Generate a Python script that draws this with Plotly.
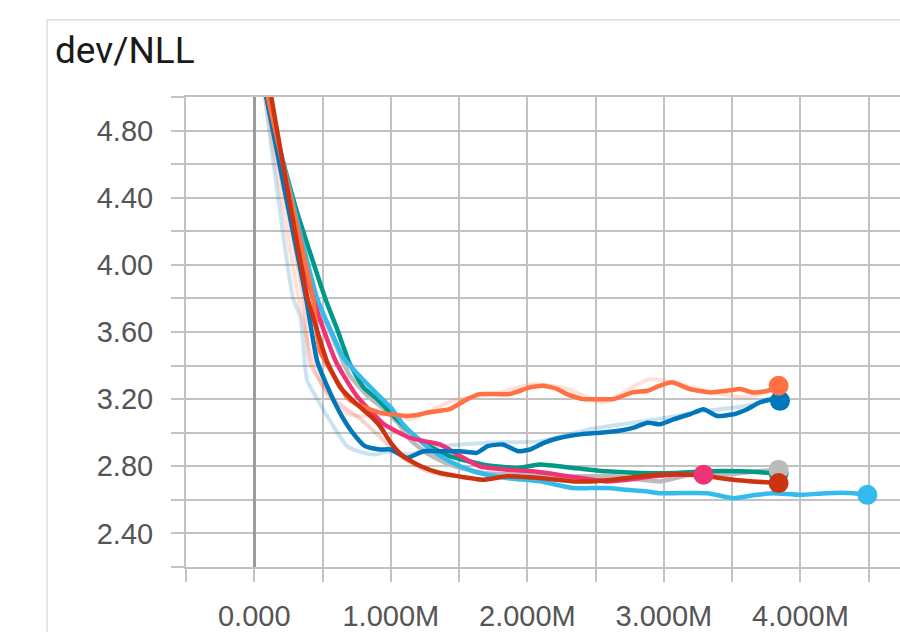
import plotly.graph_objects as go

# ---- smoothed dev/NLL curves (x in millions of steps) ----
blue_x = [0.06, 0.09, 0.38, 0.46, 0.56, 0.64, 0.72, 0.81, 0.92, 1.00, 1.12, 1.24, 1.36, 1.43, 1.51,
          1.63, 1.71, 1.82, 1.93, 2.02, 2.12, 2.24, 2.39, 2.53, 2.66, 2.78, 2.88, 2.97, 3.07, 3.19,
          3.29, 3.39, 3.51, 3.61, 3.70, 3.80, 3.85]
blue_y = [5.20, 5.00, 3.80, 3.43, 3.23, 3.10, 3.00, 2.92, 2.90, 2.90, 2.85, 2.89, 2.89, 2.89, 2.89,
          2.88, 2.92, 2.93, 2.89, 2.90, 2.94, 2.97, 2.99, 3.00, 3.01, 3.03, 3.06, 3.05, 3.08, 3.11,
          3.14, 3.10, 3.11, 3.14, 3.18, 3.20, 3.19]

orange_x = [0.06, 0.10, 0.43, 0.48, 0.62, 0.68, 0.75, 0.92, 1.12, 1.22, 1.27, 1.43, 1.56, 1.65,
            1.87, 2.02, 2.12, 2.22, 2.29, 2.41, 2.53, 2.63, 2.77, 2.88, 2.97, 3.06, 3.19, 3.34,
            3.46, 3.56, 3.65, 3.76, 3.84]
orange_y = [5.20, 5.00, 3.80, 3.49, 3.29, 3.21, 3.17, 3.12, 3.10, 3.11, 3.12, 3.14, 3.20, 3.23,
            3.23, 3.27, 3.28, 3.26, 3.23, 3.20, 3.20, 3.20, 3.24, 3.25, 3.28, 3.30, 3.26, 3.24,
            3.25, 3.26, 3.24, 3.25, 3.28]

teal_x = [0.06, 0.09, 0.30, 0.52, 0.61, 0.70, 0.80, 0.90, 1.02, 1.12, 1.24, 1.43, 1.68, 1.93,
          2.09, 2.34, 2.58, 2.83, 3.07, 3.32, 3.56, 3.80, 3.84]
teal_y = [5.20, 5.00, 4.35, 3.80, 3.61, 3.41, 3.27, 3.20, 3.10, 3.02, 2.94, 2.86, 2.81, 2.79,
          2.81, 2.79, 2.77, 2.76, 2.76, 2.77, 2.77, 2.76, 2.76]

gray_x = [0.06, 0.09, 0.46, 0.61, 0.70, 0.83, 0.95, 1.05, 1.14, 1.26, 1.43, 1.68, 1.93, 2.17,
          2.39, 2.63, 2.83, 2.97, 3.19, 3.43, 3.68, 3.84]
gray_y = [5.20, 5.00, 3.80, 3.50, 3.34, 3.22, 3.14, 3.06, 2.96, 2.88, 2.81, 2.76, 2.75, 2.74,
          2.74, 2.74, 2.72, 2.71, 2.75, 2.75, 2.77, 2.78]

pink_x = [0.06, 0.09, 0.43, 0.60, 0.75, 0.95, 1.14, 1.24, 1.36, 1.51, 1.65, 1.85, 2.04, 2.22,
          2.39, 2.58, 2.73, 2.92, 3.07, 3.29]
pink_y = [5.20, 5.00, 3.80, 3.42, 3.22, 3.05, 2.97, 2.95, 2.93, 2.86, 2.80, 2.78, 2.77, 2.75,
          2.73, 2.71, 2.72, 2.74, 2.75, 2.75]

red_x = [0.07, 0.125, 0.39, 0.43, 0.53, 0.63, 0.75, 0.85, 0.92, 1.00, 1.09, 1.22, 1.36, 1.50,
         1.68, 1.85, 2.09, 2.34, 2.46, 2.63, 2.83, 2.97, 3.19, 3.32, 3.51, 3.65, 3.84]
red_y = [5.30, 5.00, 3.80, 3.69, 3.43, 3.27, 3.17, 3.10, 3.04, 2.94, 2.86, 2.80, 2.76, 2.74,
         2.72, 2.74, 2.73, 2.71, 2.71, 2.72, 2.74, 2.75, 2.75, 2.74, 2.72, 2.71, 2.70]

cyan_x = [0.06, 0.10, 0.46, 0.56, 0.65, 0.78, 0.90, 1.00, 1.09, 1.19, 1.31, 1.43, 1.51, 1.65,
          1.85, 2.09, 2.34, 2.46, 2.58, 2.73, 2.88, 2.97, 3.07, 3.32, 3.51, 3.68, 3.80, 4.00,
          4.19, 4.39, 4.49]
cyan_y = [5.20, 5.00, 3.80, 3.61, 3.45, 3.33, 3.23, 3.15, 3.05, 2.97, 2.89, 2.83, 2.80, 2.76,
          2.73, 2.71, 2.67, 2.67, 2.67, 2.66, 2.65, 2.64, 2.64, 2.64, 2.61, 2.63, 2.64, 2.63,
          2.64, 2.64, 2.63]

# ---- unsmoothed (raw) values, drawn faintly behind the smoothed curves ----
blue_raw_x = [0.06, 0.08, 0.285, 0.337, 0.373, 0.388, 0.483, 0.556, 0.68, 0.80, 0.87, 1.00, 1.14,
              1.29, 1.70, 2.10, 2.45, 2.95, 3.30, 3.60, 3.80]
blue_raw_y = [5.20, 5.00, 3.80, 3.69, 3.39, 3.31, 3.17, 3.07, 2.92, 2.88, 2.87, 2.89, 2.87,
              2.91, 2.94, 2.95, 3.02, 3.08, 3.13, 3.16, 3.21]

orange_raw_x = [0.06, 0.08, 0.35, 0.43, 0.53, 0.68, 0.83, 1.00, 1.14, 1.29, 1.45, 1.80, 2.05,
                2.30, 2.55, 2.90, 3.30, 3.62, 3.84]
orange_raw_y = [5.20, 5.00, 3.69, 3.43, 3.23, 3.11, 3.10, 3.11, 3.08, 3.13, 3.19, 3.24, 3.29,
                3.26, 3.18, 3.32, 3.25, 3.21, 3.28]

red_raw_x = [0.06, 0.09, 0.36, 0.41, 0.58, 0.78, 0.94, 1.07, 1.24, 1.43]
red_raw_y = [5.20, 5.00, 3.80, 3.41, 3.20, 3.08, 2.96, 2.86, 2.78, 2.74]

# ---- axis ticks ----
x_tickvals = [-0.5, 0.0, 0.5, 1.0, 1.5, 2.0, 2.5, 3.0, 3.5, 4.0, 4.5]
x_ticktext = ["", "0.000", "", "1.000M", "", "2.000M", "", "3.000M", "", "4.000M", ""]
y_tickvals = [2.2, 2.4, 2.6, 2.8, 3.0, 3.2, 3.4, 3.6, 3.8, 4.0, 4.2, 4.4, 4.6, 4.8, 5.0]
y_ticktext = ["", "2.40", "", "2.80", "", "3.20", "", "3.60", "", "4.00", "", "4.40", "", "4.80", ""]

COLORS = {
    "gray": "#bbbbbb", "teal": "#009988", "cyan": "#33bbee", "pink": "#ee3377",
    "blue": "#0077bb", "orange": "#ff7043", "red": "#cc3311",
}

fig = go.Figure()

raw_runs = [
    (blue_raw_x, blue_raw_y, COLORS["blue"]),
    (orange_raw_x, orange_raw_y, COLORS["orange"]),
    (red_raw_x, red_raw_y, COLORS["red"]),
]
for xs, ys, col in raw_runs:
    fig.add_trace(go.Scatter(x=xs, y=ys, mode="lines", opacity=0.2,
                             line=dict(color=col, width=4, shape="spline", smoothing=0.6),
                             hoverinfo="skip", showlegend=False))

runs = [
    (gray_x, gray_y, COLORS["gray"]),
    (teal_x, teal_y, COLORS["teal"]),
    (cyan_x, cyan_y, COLORS["cyan"]),
    (pink_x, pink_y, COLORS["pink"]),
    (blue_x, blue_y, COLORS["blue"]),
    (orange_x, orange_y, COLORS["orange"]),
    (red_x, red_y, COLORS["red"]),
]
for xs, ys, col in runs:
    fig.add_trace(go.Scatter(x=xs, y=ys, mode="lines",
                             line=dict(color=col, width=4.5, shape="spline", smoothing=0.5),
                             showlegend=False))

# end-of-run dots; teal sits beneath the gray one
dot_order = [1, 0, 2, 3, 4, 5, 6]
for i in dot_order:
    xs, ys, col = runs[i]
    fig.add_trace(go.Scatter(x=[xs[-1]], y=[ys[-1]], mode="markers",
                             marker=dict(color=col, size=20), showlegend=False,
                             cliponaxis=False))

GRID = "#c2c2c2"
TICKFONT = dict(family="Liberation Sans, Arial, sans-serif", size=29, color="#555555")

fig.update_xaxes(
    range=[-0.5, 4.729], tickmode="array", tickvals=x_tickvals, ticktext=x_ticktext,
    showgrid=True, gridcolor=GRID, gridwidth=2,
    zeroline=True, zerolinecolor="#9c9c9c", zerolinewidth=3,
    ticks="outside", ticklen=13, tickwidth=2, tickcolor=GRID,
    showline=True, linecolor=GRID, linewidth=2, mirror=True,
    tickfont=TICKFONT, ticklabelstandoff=9, fixedrange=True,
)
fig.update_yaxes(
    range=[2.2, 5.0], tickmode="array", tickvals=y_tickvals, ticktext=y_ticktext,
    showgrid=True, gridcolor=GRID, gridwidth=2, zeroline=False,
    ticks="outside", ticklen=13, tickwidth=2, tickcolor=GRID,
    showline=True, linecolor=GRID, linewidth=2,
    tickfont=TICKFONT, ticklabelstandoff=12, fixedrange=True,
)

fig.update_layout(
    width=900, height=632,
    margin=dict(l=186, r=0, t=97, b=60),
    paper_bgcolor="white", plot_bgcolor="white",
    showlegend=False,
    annotations=[dict(
        text="dev/NLL", xref="paper", yref="paper",
        x=(53 - 186) / 714, y=(572 - 50) / 475, xanchor="left", yanchor="middle",
        showarrow=False,
        font=dict(family="Roboto, Liberation Sans, sans-serif", size=37, color="#1a1a1a"),
    )],
    shapes=[
        # card frame: left and top edges
        dict(type="line", xref="paper", yref="paper",
             x0=(47 - 186) / 714, x1=(47 - 186) / 714,
             y0=(572 - 19) / 475, y1=(572 - 640) / 475,
             line=dict(color="#d6d6d6", width=1.2)),
        dict(type="line", xref="paper", yref="paper",
             x0=(47 - 186) / 714, x1=1.02,
             y0=(572 - 19) / 475, y1=(572 - 19) / 475,
             line=dict(color="#d6d6d6", width=1.2)),
    ],
)

fig.write_html("out.html")
